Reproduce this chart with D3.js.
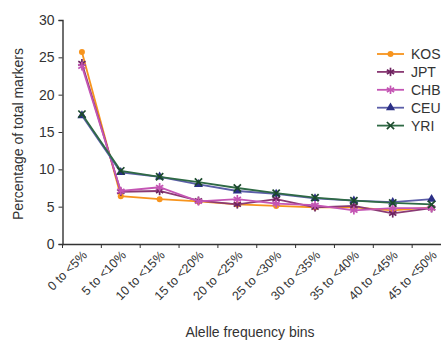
<!DOCTYPE html>
<html>
<head>
<meta charset="utf-8">
<script src="https://cdn.jsdelivr.net/npm/d3@7"></script>
<style>
  body { margin: 0; background: #fff; }
  svg { font-family: "Liberation Sans", Arial, sans-serif; }
</style>
</head>
<body>
<svg id="chart" width="441" height="341"></svg>
<script>
const bins = ['0 to <5%', '5 to <10%', '10 to <15%', '15 to <20%', '20 to <25%',
  '25 to <30%', '30 to <35%', '35 to <40%', '40 to <45%', '45 to <50%'];
const yTicks = [0, 5, 10, 15, 20, 25, 30];

const kos = [25.7, 6.4, 6.0, 5.7, 5.3, 5.1, 4.9, 4.9, 4.5, 4.9];
const jpt = [24.2, 7.0, 7.1, 5.8, 5.3, 6.0, 4.9, 5.1, 4.1, 4.8];
const chb = [23.8, 7.1, 7.6, 5.7, 6.0, 5.4, 5.2, 4.5, 4.8, 4.8];
const ceu = [17.2, 9.6, 9.0, 8.0, 7.1, 6.7, 6.1, 5.8, 5.6, 6.0];
const yri = [17.4, 9.8, 9.0, 8.3, 7.5, 6.8, 6.2, 5.8, 5.5, 5.3];

const series = [
  { name: 'KOS', values: kos, line: '#f7941d', fill: '#f7941d', marker: 'circle' },
  { name: 'JPT', values: jpt, line: '#8a3a74', fill: '#6e2460', marker: 'star' },
  { name: 'CHB', values: chb, line: '#c455b4', fill: '#c455b4', marker: 'star' },
  { name: 'CEU', values: ceu, line: '#5b5ea8', fill: '#2b2f86', marker: 'triangle' },
  { name: 'YRI', values: yri, line: '#2f6a45', fill: '#1c4a2c', marker: 'cross' }
];

const svg = d3.select('#chart');
const mLeft = 62.5, mRight = 451, mTop = 20, mBottom = 244;

const x = d3.scaleBand().domain(bins).range([mLeft, mRight]);
const y = d3.scaleLinear().domain([0, 30]).range([mBottom, mTop]);

// y axis
const yAxis = svg.append('g')
  .attr('transform', `translate(${mLeft},0)`)
  .call(d3.axisLeft(y).tickValues(yTicks).tickSize(4).tickPadding(4));
yAxis.selectAll('text').attr('font-size', 14).attr('fill', '#333');

// x axis
const xAxis = svg.append('g')
  .attr('transform', `translate(0,${mBottom})`)
  .call(d3.axisBottom(x).tickSize(0).tickFormat(''));
xAxis.selectAll('.tick').remove();
xAxis.selectAll('.boundary')
  .data(d3.range(bins.length + 1))
  .enter().append('line')
  .attr('x1', i => mLeft + i * x.step())
  .attr('x2', i => mLeft + i * x.step())
  .attr('y1', 0).attr('y2', 4)
  .attr('stroke', '#333');

svg.selectAll('.domain').attr('stroke', '#333').attr('stroke-width', 1.4);
svg.selectAll('.tick line').attr('stroke', '#333');

svg.append('g').selectAll('text')
  .data(bins)
  .enter().append('text')
  .attr('transform', d => `translate(${x(d) + x.bandwidth() / 2 + 6},${mBottom + 12}) rotate(-45)`)
  .attr('text-anchor', 'end')
  .attr('font-size', 12.5)
  .attr('fill', '#333')
  .text(d => d);

// axis titles
svg.append('text')
  .attr('transform', `translate(23,${(mTop + mBottom) / 2 + 2}) rotate(-90)`)
  .attr('text-anchor', 'middle')
  .attr('font-size', 14)
  .attr('fill', '#333')
  .text('Percentage of total markers');

svg.append('text')
  .attr('x', 250).attr('y', 337)
  .attr('text-anchor', 'middle')
  .attr('font-size', 14)
  .attr('fill', '#333')
  .text('Alelle frequency bins');

function drawMarker(g, type, color, cx, cy) {
  if (type === 'circle') {
    g.append('circle').attr('cx', cx).attr('cy', cy).attr('r', 3).attr('fill', color);
  } else if (type === 'triangle') {
    g.append('path')
      .attr('d', d3.symbol().type(d3.symbolTriangle).size(36)())
      .attr('transform', `translate(${cx},${cy})`)
      .attr('fill', color);
  } else if (type === 'star') {
    const r = 4.2;
    [0, 60, 120].forEach(a => {
      const dx = r * Math.sin(a * Math.PI / 180), dy = r * Math.cos(a * Math.PI / 180);
      g.append('line').attr('x1', cx - dx).attr('y1', cy - dy).attr('x2', cx + dx).attr('y2', cy + dy)
        .attr('stroke', color).attr('stroke-width', 1.7);
    });
  } else if (type === 'cross') {
    const r = 3.6;
    g.append('line').attr('x1', cx - r).attr('y1', cy - r).attr('x2', cx + r).attr('y2', cy + r)
      .attr('stroke', color).attr('stroke-width', 1.7);
    g.append('line').attr('x1', cx - r).attr('y1', cy + r).attr('x2', cx + r).attr('y2', cy - r)
      .attr('stroke', color).attr('stroke-width', 1.7);
  }
}

const line = d3.line()
  .x((d, i) => x(bins[i]) + x.bandwidth() / 2)
  .y(d => y(d));

series.forEach(s => {
  const g = svg.append('g');
  g.append('path')
    .attr('d', line(s.values))
    .attr('fill', 'none')
    .attr('stroke', s.line)
    .attr('stroke-width', 1.8);
  s.values.forEach((v, i) => drawMarker(g, s.marker, s.fill, x(bins[i]) + x.bandwidth() / 2, y(v)));
});

// legend
const legend = svg.append('g');
series.forEach((s, i) => {
  const ly = 54 + i * 17.9;
  const g = legend.append('g');
  g.append('line').attr('x1', 377).attr('x2', 404).attr('y1', ly).attr('y2', ly)
    .attr('stroke', s.line).attr('stroke-width', 1.8);
  drawMarker(g, s.marker, s.fill, 390.5, ly);
  g.append('text').attr('x', 411).attr('y', ly + 5)
    .attr('font-size', 14).attr('fill', '#333').text(s.name);
});
</script>
</body>
</html>
